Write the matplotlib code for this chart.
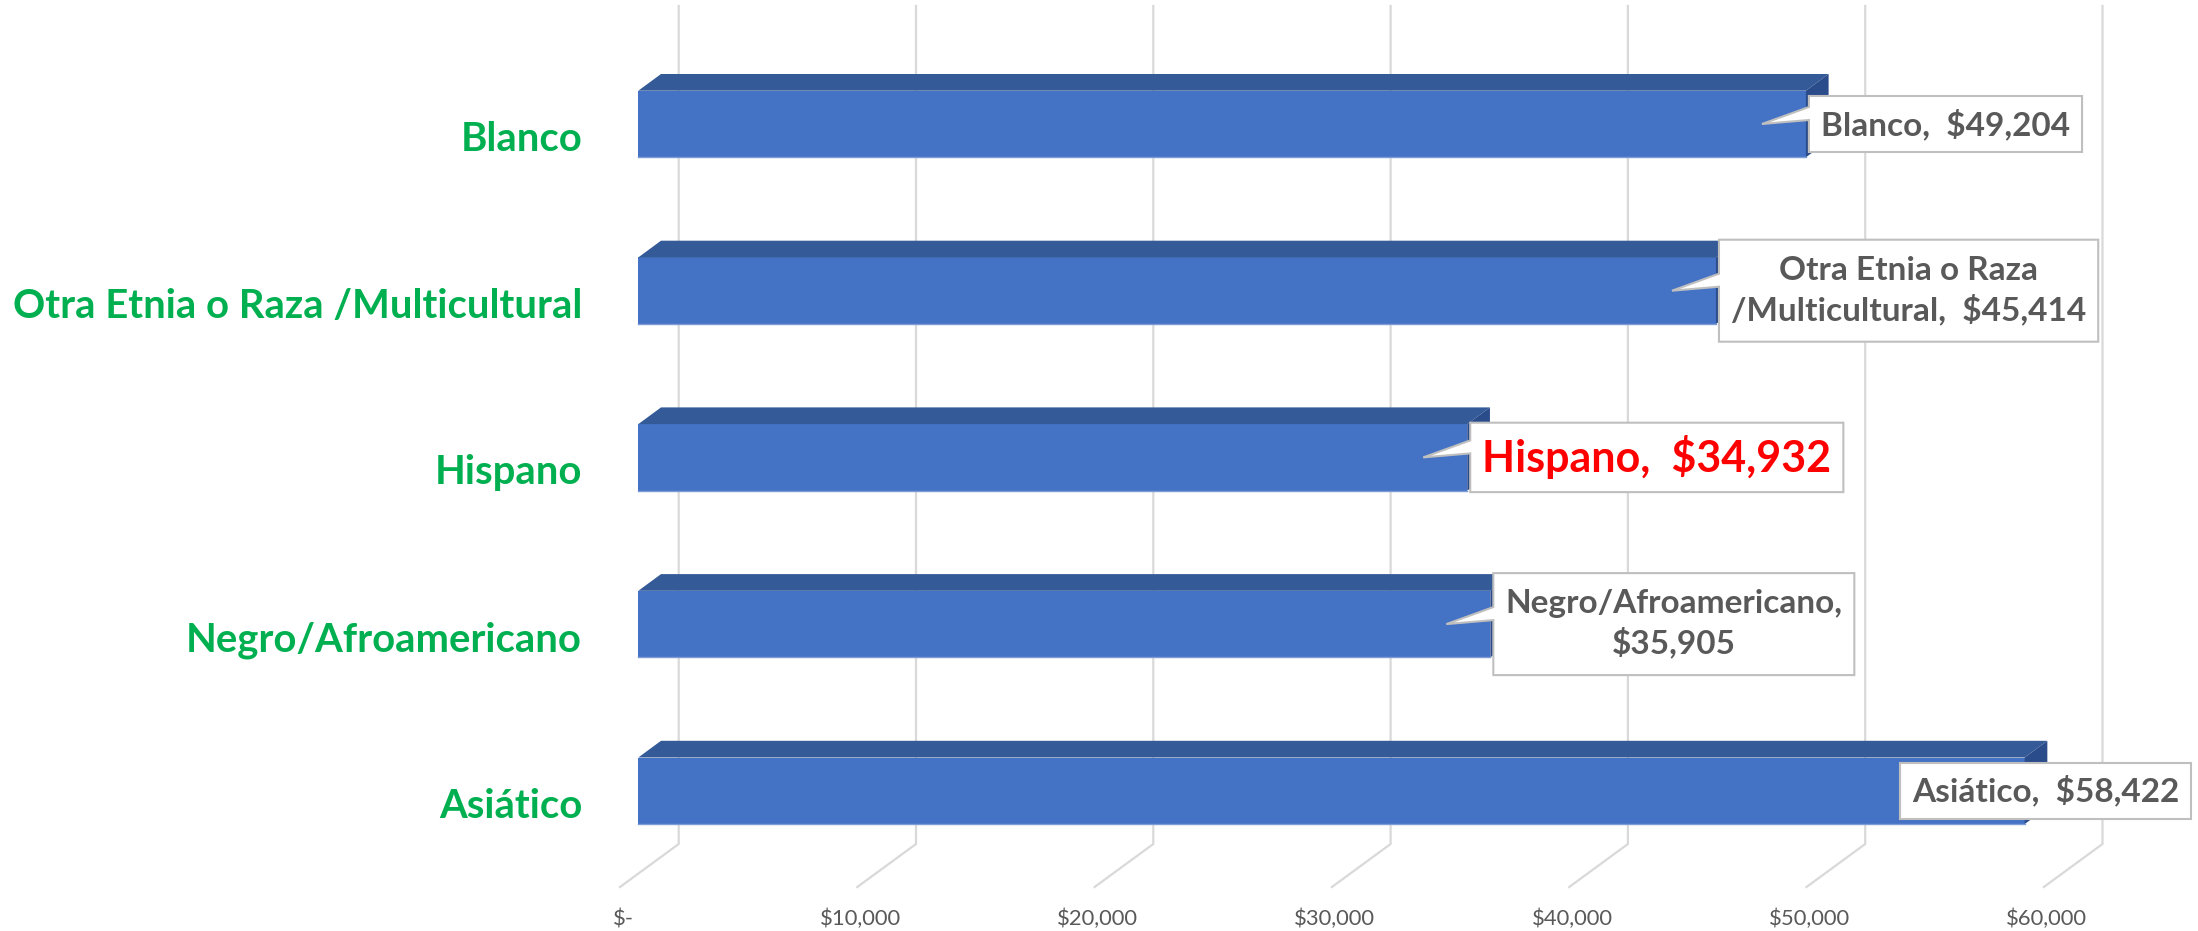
import matplotlib
matplotlib.use("Agg")
import matplotlib.pyplot as plt
from matplotlib.patches import Polygon

# ---------------- data ----------------
categories = ["Blanco", "Otra Etnia o Raza /Multicultural", "Hispano",
              "Negro/Afroamericano", "Asiático"]
values = [49204, 45414, 34932, 35905, 58422]
tick_values = [0, 10000, 20000, 30000, 40000, 50000, 60000]
highlight = "Hispano"
# where the data labels wrap onto a second line
label_breaks = {"Otra Etnia o Raza /Multicultural": (" /", "\n/"),
                "Negro/Afroamericano": (",  $", ",\n$")}

# ---------------- layout (pixels) ----------------
W, H, DPI = 2198, 931, 100
X0 = 638.3          # pixel x of value 0 on the bar front plane
PX_PER_USD = 0.02373
Y0 = 124.0          # pixel y (from top) of first bar centre
PX_PER_CAT = 166.7
BAR_H_PX = 66.6
DEPTH_DX, DEPTH_DY = 22.7, 16.7     # bar depth offset
WALL_DX = 40.4                      # back wall offset from bar front plane
FLOOR_DX = -18.3                    # floor front edge offset
GRID_TOP, WALL_BOTTOM, FLOOR_FRONT = 6, 844, 887

FRONT = "#4472C4"
TOP = "#345A98"
SIDE = "#2B4C8A"
GRID = "#D9D9D9"
GREY_TXT = "#595959"
GREEN = "#00B050"
RED = "#FF0000"
FONT = "Lato"

fig = plt.figure(figsize=(W / DPI, H / DPI), dpi=DPI)
ax = fig.add_axes([0, 0, 1, 1])
ax.set_xlim(-X0 / PX_PER_USD, (W - X0) / PX_PER_USD)
ax.set_ylim((H - Y0) / PX_PER_CAT, -Y0 / PX_PER_CAT)
ax.axis("off")


def dx(px):
    return px / PX_PER_USD


def dy(px):
    return px / PX_PER_CAT


def X(px):
    return (px - X0) / PX_PER_USD


def Y(py):
    return (py - Y0) / PX_PER_CAT


# ---------------- gridlines (back wall + floor) ----------------
for t in tick_values:
    ax.plot([t + dx(WALL_DX), t + dx(WALL_DX), t + dx(FLOOR_DX)],
            [Y(GRID_TOP), Y(WALL_BOTTOM), Y(FLOOR_FRONT)],
            color=GRID, lw=1.6, zorder=1, solid_joinstyle="miter")
    lab = "$-" if t == 0 else f"${t:,.0f}"
    ax.text(t + dx(FLOOR_DX + 3), Y(925), lab, ha="center", va="baseline",
            fontsize=15.8, color=GREY_TXT, family=FONT)

# ---------------- 3D bars ----------------
ypos = list(range(len(categories)))
bh = dy(BAR_H_PX)
ax.barh(ypos, values, height=bh, left=0, color=FRONT, zorder=3,
        edgecolor="none")
for i, v in zip(ypos, values):
    top, bot = i - bh / 2, i + bh / 2
    ddx, ddy = dx(DEPTH_DX), dy(DEPTH_DY)
    ax.add_patch(Polygon([(0, top), (v, top), (v + ddx, top - ddy), (ddx, top - ddy)],
                         closed=True, fc=TOP, ec="none", zorder=3))
    ax.add_patch(Polygon([(v, top), (v + ddx, top - ddy), (v + ddx, bot - ddy), (v, bot)],
                         closed=True, fc=SIDE, ec="none", zorder=3))
    ax.plot([0, v], [bot, bot], color="#7E9BD6", lw=1.0, zorder=3.5)

# ---------------- category labels ----------------
for i, c in zip(ypos, categories):
    ax.text(X(582), i + dy(27), c, ha="right", va="baseline", fontsize=28.8,
            fontweight="bold", color=GREEN, family=FONT)

# ---------------- data labels (callouts) ----------------
fig.canvas.draw()
renderer = fig.canvas.get_renderer()
for i, c, v in zip(ypos, categories, values):
    txt = f"{c},  ${v:,.0f}"
    if c in label_breaks:
        a, b = label_breaks[c]
        txt = txt.replace(a, b)
    nlines = txt.count("\n") + 1
    is_hi = c == highlight
    size = 31 if is_hi else 24
    col = RED if is_hi else GREY_TXT
    t = ax.text(0, i, txt, ha="center", va="center", multialignment="center",
                fontsize=size, fontweight="bold", color=col, family=FONT,
                zorder=6, linespacing=1.32)
    ext = t.get_window_extent(renderer)
    bw = ext.width + 24
    line_px = size * DPI / 72 * 1.38
    bhp = nlines * line_px + 10
    end_px = X0 + v * PX_PER_USD
    cy = Y0 + i * PX_PER_CAT
    L = min(end_px + 3, W - 7 - bw)
    R = L + bw
    T, B = cy - bhp / 2, cy + bhp / 2
    tip = end_px - 44
    pts = [(L, T), (R, T), (R, B), (L, B)]
    if tip < L:
        pts += [(L, cy - 4), (tip, cy), (L, cy - 17)]
    ax.add_patch(Polygon([(X(px), Y(py)) for px, py in pts], closed=True,
                         fc="white", ec="#BFBFBF", lw=1.5, joinstyle="miter",
                         zorder=5))
    t.set_position((X((L + R) / 2), Y(cy)))

fig.savefig("out.png", dpi=DPI)
